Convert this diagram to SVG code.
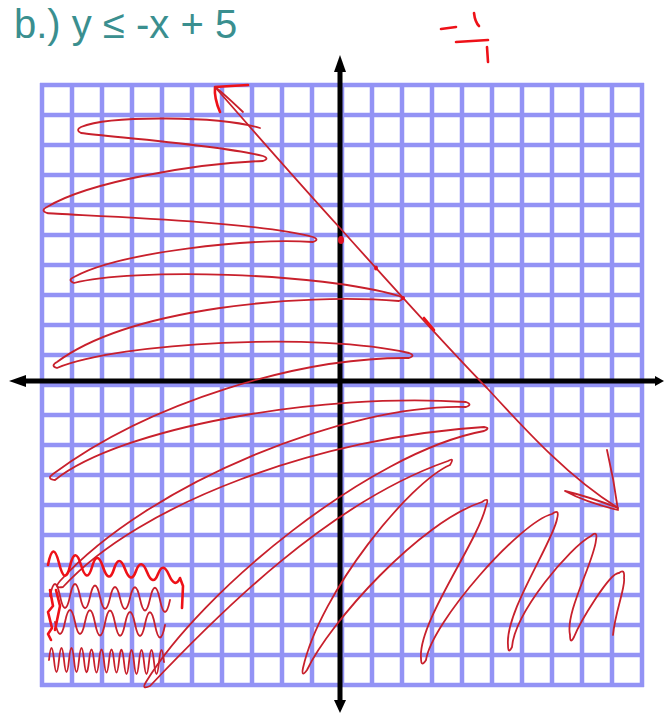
<svg xmlns="http://www.w3.org/2000/svg" width="664" height="715" viewBox="0 0 664 715">
<style>
.grid{stroke:#9393f5;stroke-width:4.5;fill:none}
.axis{stroke:#000;stroke-width:5;fill:none}
.ink{stroke:#c8202c;stroke-width:1.8;fill:none;stroke-linecap:round;stroke-linejoin:round}
.bright{stroke:#ee1118;stroke-width:2.6;fill:none;stroke-linecap:round;stroke-linejoin:round}
.title{font-family:"Liberation Sans",Arial,sans-serif;font-size:40px;fill:#3a8f8f}
</style>
<rect width="664" height="715" fill="#fff"/>
<g id="title"><text class="title" x="14" y="38">b.) y ≤ -x + 5</text></g>
<g id="grid">
<path class="grid" d="M42,83V687M72,83V687M102,83V687M132,83V687M162,83V687M192,83V687M222,83V687M252,83V687M282,83V687M312,83V687M342,83V687M372,83V687M402,83V687M432,83V687M462,83V687M492,83V687M522,83V687M552,83V687M582,83V687M612,83V687M642,83V687"/>
<path class="grid" d="M40,85H644M40,115H644M40,145H644M40,175H644M40,205H644M40,235H644M40,265H644M40,295H644M40,325H644M40,355H644M40,385H644M40,415H644M40,445H644M40,475H644M40,505H644M40,535H644M40,565H644M40,595H644M40,625H644M40,655H644M40,685H644"/>
</g>
<g id="axes">
<line class="axis" x1="340" y1="68" x2="340" y2="702"/>
<line class="axis" x1="22" y1="381" x2="656" y2="381"/>
<polygon points="340,55 334,72 346,72" fill="#000"/>
<polygon points="340,713 334,700 346,700" fill="#000"/>
<polygon points="9,381 26,375 26,387" fill="#000"/>
<polygon points="664,381 655,376 655,386" fill="#000"/>
</g>
<g id="shading">
<path class="ink" d="M260,128 C220,116 110,115 81,127 Q75,130 81,133 C110,137 220,145 263,156 Q270,158.5 263,161 C200,163 90,181 47,207 Q40,210.5 47,213 C60,215 250,220 313,237 Q320,239.5 313,242 C250,238 120,252 74,277 Q67,280 74,283 C130,268 320,272 399,296 Q406,298.5 399,301 C300,293 130,308 57,362 Q50,366 57,368 C120,342 320,332 409,353 Q416,355.5 409,358 C300,357 150,402 53,474 Q46,479 55,480 C120,428 320,392 466,402 Q473,404.5 466,407 C350,403 150,482 60,581 Q53,589 63,587 C140,503 320,437 484,427 Q491,428 484,431 C370,452 200,592 146,682 Q141,690 150,686 C220,612 330,502 448,461 Q455,457 450,465 C410,482 320,592 303,668 Q301,678 307,670 C330,622 420,522 482,502 Q490,496 486,506 C478,542 418,622 421,658 Q421,668 426,660 C432,622 520,522 552,514 Q560,508 557,519 C553,542 505,612 508,645 Q508,655 512,647 C515,612 570,547 591,536 Q598,530 596,540 C594,562 565,612 570,635 Q570,645 574,637 C580,622 610,572 619,573 Q625,568 624,578 C626,586 615,612 613,635"/>
<path class="bright" d="M48,565 Q53,539 59,563 T70,566 T81,565 T92,567 T103,567 T114,569 T125,569 T136,571 T147,572 T158,574 T169,575 T180,578 L183,586 L182,608"/>
<path class="ink" d="M50,596 Q55,572 60,596 T70,596 T80,596 T90,597 T100,597 T110,598 T120,598 T130,598 T140,599 T150,599 T160,600 T170,600"/>
<path class="ink" d="M55,622 Q60,646 65,622 T75,622 T85,622 T95,623 T105,623 T115,623 T125,624 T135,624 T145,624 T155,625 T165,625"/>
<path class="ink" d="M49,660 Q51.5,636 54,660 T59,660 T64,660 T69,660 T74,660 T79,660 T84,660 T89,661 T94,661 T99,661 T104,661 T109,661 T114,661 T119,661 T124,662 T129,662 T134,662 T139,662 T144,662 T149,662 T154,662 T159,662 T164,662"/>
<path class="bright" d="M50,590 L53,606 L48,612 L52,628 L48,634 L51,640 M56,590 L60,606 L55,630"/>
</g>
<g id="boundary">
<path class="ink" d="M215,87 C270,150 310,195 340,228 C400,295 450,350 487,388 C530,435 570,478 618,508"/>
<path class="bright" d="M220,112 Q214,98 215,87 Q230,86 248,85"/>
<path class="ink" d="M215,87 Q222,92 243,112"/>
<path class="ink" d="M618,508 Q590,497 565,491 Q585,502 618,510 Q614,480 607,450"/>
<ellipse cx="341" cy="240" rx="3" ry="4" fill="#e01020"/>
<ellipse cx="376" cy="268" rx="2" ry="2.5" fill="#e01020"/>
<ellipse cx="403" cy="298" rx="2" ry="2" fill="#e01020"/>
<path class="bright" d="M424,318 L434,330"/>
</g>
<g id="note">
<path class="bright" d="M441,29 L456,27 M474,13 Q475,22 479,26 M456,42 L488,40 M487,47 L488,62"/>
</g>
</svg>
